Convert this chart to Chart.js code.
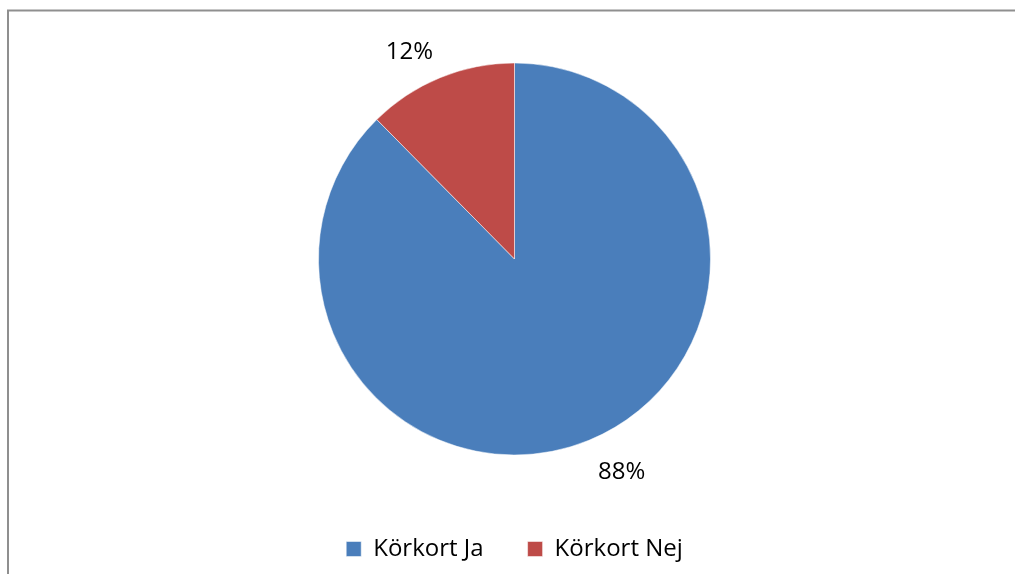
<!DOCTYPE html>
<html>
<head>
<meta charset="utf-8">
<script src="https://cdn.jsdelivr.net/npm/chart.js@4/dist/chart.umd.min.js"></script>
<style>
  html, body { margin: 0; padding: 0; background: #ffffff; }
  #wrap { width: 1016px; height: 574px; position: relative; }
</style>
</head>
<body>
<div id="wrap"><canvas id="c" width="1016" height="574"></canvas></div>
<script>
const categories = ["Körkort Ja", "Körkort Nej"];
const values = [87.6, 12.4];
const valueLabels = ["88%", "12%"];
const colors = ["#4A7EBB", "#BE4B48"];

const frame = {
  id: 'frame',
  beforeDraw(chart) {
    const ctx = chart.ctx;
    ctx.save();
    ctx.fillStyle = '#ffffff';
    ctx.fillRect(0, 0, chart.width, chart.height);
    ctx.strokeStyle = '#8f8f8f';
    ctx.lineWidth = 2;
    ctx.beginPath();
    ctx.moveTo(8, 580);
    ctx.lineTo(8, 10.5);
    ctx.lineTo(1015, 10.5);
    ctx.stroke();
    ctx.restore();
  }
};

const outsideLabels = {
  id: 'outsideLabels',
  afterDatasetsDraw(chart, args, opts) {
    const ctx = chart.ctx;
    const meta = chart.getDatasetMeta(0);
    ctx.save();
    ctx.font = '24px "Open Sans"';
    ctx.fillStyle = '#000000';
    ctx.textAlign = 'center';
    ctx.textBaseline = 'middle';
    meta.data.forEach((arc, i) => {
      const p = arc.getProps(['x', 'y', 'startAngle', 'endAngle', 'outerRadius'], true);
      const mid = (p.startAngle + p.endAngle) / 2 + opts.angleShift * Math.PI / 180;
      const d = p.outerRadius * opts.distance;
      ctx.fillText(valueLabels[i], p.x + Math.cos(mid) * d + opts.dx, p.y + Math.sin(mid) * d + opts.dy);
    });
    ctx.restore();
  }
};

new Chart(document.getElementById('c'), {
  type: 'pie',
  data: {
    labels: categories,
    datasets: [{
      data: values,
      backgroundColor: colors,
      borderColor: 'rgba(255,255,255,0.5)',
      borderWidth: 1
    }]
  },
  options: {
    responsive: false,
    animation: false,
    radius: 196,
    layout: { padding: { top: 25, bottom: 3, left: 13, right: 0 } },
    plugins: {
      tooltip: { enabled: false },
      outsideLabels: { angleShift: -4.5, distance: 1.2, dx: 1, dy: 3 },
      legend: {
        position: 'bottom',
        labels: {
          boxWidth: 15,
          boxHeight: 15,
          padding: 44,
          color: '#000000',
          font: { family: '"Open Sans"', size: 24 }
        }
      }
    }
  },
  plugins: [frame, outsideLabels]
});
</script>
</body>
</html>
